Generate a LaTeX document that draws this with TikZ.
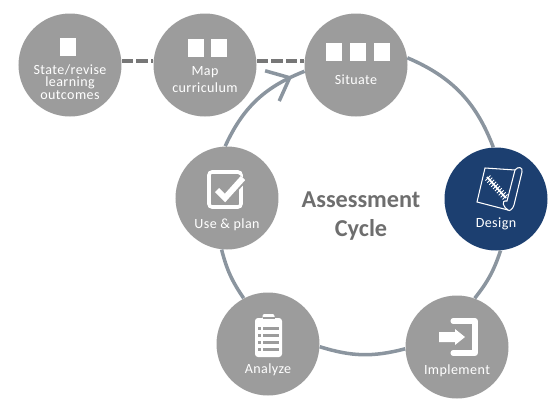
\documentclass[tikz,border=0pt]{standalone}
\usepackage{fontspec}
\setmainfont{Carlito}
\newfontfamily\labelfont[LetterSpace=3]{Carlito}
\usetikzlibrary{
  arrows.meta,
  calc,
  decorations.markings
}
\definecolor{cyclegray} {HTML}{9C9C9C}
\definecolor{cycleblue} {HTML}{1C3F70}
\definecolor{ringgray}  {HTML}{8B959F}
\definecolor{dashgray}  {HTML}{777777}
\definecolor{titlegray} {HTML}{6E6E6E}

\begin{document}
\begin{tikzpicture}[
  stage/.style={circle, minimum size=2.06cm, inner sep=0pt, fill=cyclegray},
  active/.style={stage, fill=cycleblue},
  tag/.style={text=white, align=center, inner sep=0pt,
              font=\labelfont\fontsize{8}{7.2}\selectfont},
  tile/.style={rectangle, fill=white, minimum width=0.32cm, minimum height=0.36cm, inner sep=0pt},
  ring/.style={ringgray, line width=2pt},
  link/.style={dashgray, line width=2.2pt, dash pattern=on 6.5pt off 1.8pt},
  icon/.style={white, line width=2pt},
  thin icon/.style={white, line width=0.6pt}
]
\useasboundingbox (0,0) rectangle (11.16,8.30);

% Stages
\node[stage] (state) at (1.40,7.00) {};
\node[stage] (map) at (4.10,7.00) {};
\node[stage] (situate) at (7.12,7.00) {};
\node[active] (design) at (9.92,4.32) {};
\node[stage] (implement) at (9.14,1.36) {};
\node[stage] (analyze) at (5.36,1.42) {};
\node[stage] (use) at (4.54,4.34) {};

% Cycle
\draw[ring] (situate.8) to[bend left=23] (design.93);
\draw[ring] (design.-85) to[bend left=10] (implement.70);
\draw[ring] (implement.182) to[bend left=16] (analyze.-3);
\draw[ring] (analyze.118) to[bend left=10] (use.264);
\draw[ring, postaction={decorate}, decoration={markings,
    mark=at position 0.88 with {\arrow{Straight Barb[length=11pt, width=19pt, line width=2pt]}}}]
  (use.92) to[bend left=22] (situate.187);

% Dashed lead-in
\draw[link] (state.4) -- (map.176);
\draw[link] (map.4) -- (situate.176);

% Labels
\node[tag] (statetag) at (1.40,6.66) {State/revise\\learning\\outcomes};
\node[tag] (maptag) at (4.10,6.70) {Map\\[2.5pt]curriculum};
\node[tag] (situatetag) at (7.12,6.70) {Situate};
\node[tag] (designtag) at (9.92,3.82) {Design};
\node[tag] (implementtag) at (9.14,0.88) {Implement};
\node[tag] (analyzetag) at (5.36,0.90) {Analyze};
\node[tag] (usetag) at (4.54,3.80) {Use \& plan};

% Title
\node[text=titlegray, align=center, font=\bfseries\fontsize{13.8}{16.5}\selectfont]
  (title) at (7.22,3.98) {Assessment\\Cycle};

% Tiles
\node[tile] (state1) at (1.36,7.36) {};
\node[tile] (map1) at (3.91,7.34) {};
\node[tile] (map2) at (4.38,7.34) {};
\node[tile] (situate1) at (6.68,7.26) {};
\node[tile] (situate2) at (7.16,7.26) {};
\node[tile] (situate3) at (7.64,7.26) {};

% Checkbox
\draw[icon, rounded corners=0.06cm] (4.18,4.16) rectangle (4.82,4.86);
\draw[cyclegray, line width=5.5pt] (4.34,4.50) -- (4.50,4.34) -- (4.86,4.74);
\draw[white, line width=3.4pt] (4.34,4.50) -- (4.50,4.34) -- (4.86,4.74);

% Clipboard
\fill[white, rounded corners=0.06cm] (5.10,1.16) rectangle (5.64,1.94);
\fill[white, rounded corners=0.04cm] (5.25,1.90) rectangle (5.49,2.02);
\draw[cyclegray, line width=0.8pt] (5.26,1.94) -- (5.50,1.94);
\foreach \y in {1.74,1.60,1.46,1.32} {
  \fill[cyclegray] (5.16,\y-0.03) rectangle (5.22,\y+0.03);
  \fill[cyclegray] (5.26,\y-0.03) rectangle (5.58,\y+0.03);
}

% Door and arrow
\draw[white, line width=2.85pt, line cap=round, line join=round]
  (9.06,1.88) -- (9.50,1.88) -- (9.50,1.24) -- (9.06,1.24);
\fill[white] (8.78,1.66) -- (9.10,1.66) -- (9.10,1.72) -- (9.30,1.56)
  -- (9.10,1.40) -- (9.10,1.46) -- (8.78,1.46) -- cycle;

% Blueprint
\draw[thin icon] (10.30,4.90) -- (9.70,4.94) -- (9.54,4.26) -- (10.16,4.10);
\draw[thin icon] (10.30,4.90) .. controls (10.36,4.98) and (10.46,4.96) .. (10.44,4.86)
  -- (10.28,4.20) .. controls (10.26,4.12) and (10.18,4.06) .. (10.16,4.10);
\draw[thin icon] (10.30,4.90) -- (10.14,4.28) .. controls (10.00,4.30) and (10.08,4.14) .. (10.16,4.10);
\draw[white, line width=1pt] (9.74,4.76) -- (10.12,4.34);
\foreach \t in {0.05,0.15,...,1} {
  \draw[thin icon] ($(9.74,4.76)!\t!(10.12,4.34)+(-0.05,-0.05)$) -- ($(9.74,4.76)!\t!(10.12,4.34)+(0.05,0.05)$);
}

\end{tikzpicture}
\end{document}
